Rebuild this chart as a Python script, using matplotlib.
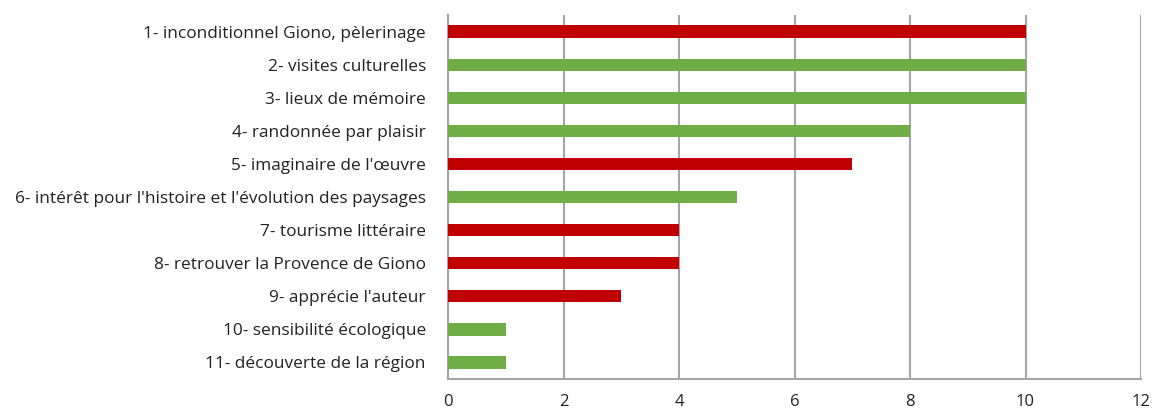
import matplotlib.pyplot as plt

labels = [
    "1- inconditionnel Giono, pèlerinage",
    "2- visites culturelles",
    "3- lieux de mémoire",
    "4- randonnée par plaisir",
    "5- imaginaire de l'œuvre",
    "6- intérêt pour l'histoire et l'évolution des paysages",
    "7- tourisme littéraire",
    "8- retrouver la Provence de Giono",
    "9- apprécie l'auteur",
    "10- sensibilité écologique",
    "11- découverte de la région",
]
values = [10, 10, 10, 8, 7, 5, 4, 4, 3, 1, 1]
groups = ["r", "g", "g", "g", "r", "g", "r", "r", "r", "g", "g"]

colors = {"r": "#C00000", "g": "#70AD47"}
grid_col = "#A6A6A6"

plt.rcParams['font.family'] = ['Open Sans', 'DejaVu Sans']

fig = plt.figure(figsize=(11.53, 4.12), dpi=100)
ax = fig.add_axes([0.3886, 0.080, 0.601, 0.8836])

y = list(range(len(labels)))
ax.barh(y, values, height=0.37, color=[colors[g] for g in groups], zorder=3)

ax.set_xlim(0, 12)
ax.set_ylim(len(labels) - 0.5, -0.5)
ax.set_xticks(range(0, 13, 2))
ax.set_yticks(y)
ax.set_yticklabels(labels)
ax.tick_params(axis='both', length=0, labelsize=12.4, colors='#222222')
ax.tick_params(axis='x', pad=11, labelsize=12)
ax.tick_params(axis='y', pad=16)

ax.grid(axis='x', color=grid_col, linewidth=1.5, zorder=0)
for s in ['top', 'right']:
    ax.spines[s].set_visible(False)
for s in ['left', 'bottom']:
    ax.spines[s].set_color(grid_col)
    ax.spines[s].set_linewidth(1.5)

fig.savefig("out.png", dpi=100)
